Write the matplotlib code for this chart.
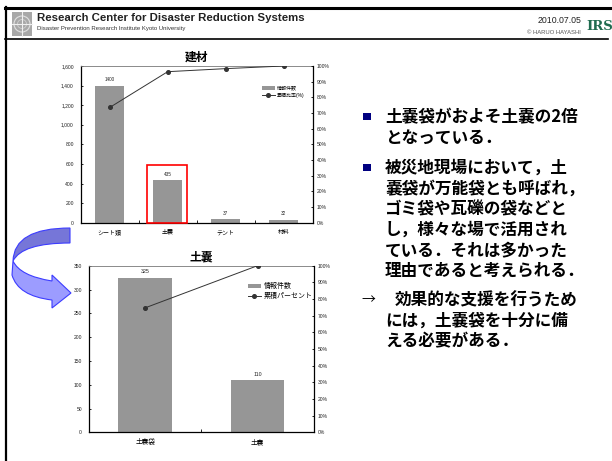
import matplotlib
matplotlib.use("Agg")
import matplotlib.pyplot as plt
from matplotlib.patches import Rectangle, PathPatch, Circle
from matplotlib.path import Path
from matplotlib.lines import Line2D
from matplotlib.ticker import PercentFormatter, FuncFormatter
import numpy as np

plt.rcParams['font.family'] = ['Liberation Sans', 'Noto Sans CJK JP', 'DejaVu Sans']

# ---- data ----
cat1 = ["シート類", "土嚢", "テント", "材料"]
val1 = [1400, 435, 37, 32]
cat2 = ["土嚢袋", "土嚢"]
val2 = [325, 110]

title1 = "建材"
title2 = "土嚢"
legend1 = ["情報件数", "累積比率(%)"]
legend2 = ["情報件数", "累積パーセント"]

W, H = 612, 461
fig = plt.figure(figsize=(W / 100, H / 100), dpi=100)
fig.patch.set_facecolor("white")

BAR = "#969696"
LINE = "#333333"


def px_rect(left, top, right, bottom):
    return [left / W, (H - bottom) / H, (right - left) / W, (bottom - top) / H]


def pareto(rect, cats, vals, ymax, ystep, width, title, legtxt, leg_anchor,
           leg_fs, leg_hl, tick_fs, cat_fs, lab_fs, title_fs):
    ax = fig.add_axes(rect)
    x = np.arange(len(cats))
    ax.bar(x, vals, width=width, color=BAR, zorder=2, label=legtxt[0])
    for xi, v in zip(x, vals):
        ax.text(xi, v + ymax * 0.02, f"{v}", ha="center", va="bottom",
                fontsize=lab_fs, color="#222222")
    ax.set_xlim(-0.5, len(cats) - 0.5)
    ax.set_ylim(0, ymax)
    ax.set_yticks(np.arange(0, ymax + 1, ystep))
    ax.yaxis.set_major_formatter(FuncFormatter(lambda v, p: f"{int(v):,}"))
    ax.set_xticks(x)
    ax.set_xticklabels(cats, fontsize=cat_fs)
    ax.set_xticks(np.arange(0.5, len(cats) - 0.5, 1), minor=True)
    ax.tick_params(axis="x", which="major", length=0, pad=5)
    ax.tick_params(axis="x", which="minor", direction="in", length=2, width=0.6)
    ax.tick_params(axis="y", direction="in", length=1.5, width=0.6,
                   labelsize=tick_fs, pad=5, labelcolor="#222222")
    for s in ("left", "bottom"):
        ax.spines[s].set_color("black")
        ax.spines[s].set_linewidth(0.9)
    ax.spines["top"].set_color("#777777")
    ax.spines["top"].set_linewidth(0.6)
    ax.spines["right"].set_visible(False)
    ax.set_title(title, fontsize=title_fs, fontweight="bold", pad=4)

    ax2 = ax.twinx()
    cum = np.cumsum(vals) / np.sum(vals)
    ax2.plot(x, cum, color=LINE, lw=0.7, marker="o", ms=2.6,
             mfc=LINE, mec=LINE, zorder=3, label=legtxt[1])
    ax2.set_ylim(0, 1)
    ax2.set_yticks(np.arange(0, 1.01, 0.1))
    ax2.yaxis.set_major_formatter(PercentFormatter(1.0, decimals=0))
    ax2.tick_params(axis="y", direction="in", length=1.5, width=0.6,
                    labelsize=tick_fs, pad=3, labelcolor="#222222")
    ax2.spines["right"].set_color("black")
    ax2.spines["right"].set_linewidth(0.9)
    for s in ("left", "top", "bottom"):
        ax2.spines[s].set_visible(False)

    h1, l1 = ax.get_legend_handles_labels()
    h2, l2 = ax2.get_legend_handles_labels()
    ax2.legend(h1 + h2, l1 + l2, loc="upper left", bbox_to_anchor=leg_anchor,
               frameon=False, fontsize=leg_fs, handlelength=leg_hl,
               handleheight=0.6, borderpad=0, labelspacing=0.4,
               handletextpad=0.4)
    return ax, ax2


ax1, ax1r = pareto(px_rect(80.7, 66, 312.7, 222.7), cat1, val1, 1600, 200, 0.5,
                   title1, legend1, (0.77, 0.89), 3.6, 2.6, 3.6, 4.3, 3.3, 8.5)
ax2_, ax2r = pareto(px_rect(89, 265.7, 313.7, 432.3), cat2, val2, 350, 50, 0.48,
                    title2, legend2, (0.69, 0.915), 5.0, 2.0, 3.6, 4.8, 3.8, 8.5)

# highlight box around the 土嚢 bar
ax1.add_patch(Rectangle((0.65, -8), 0.68, 597, fill=False, edgecolor="#ff0000",
                        lw=1.2, clip_on=False, zorder=5))

# ---- slide overlay (pixel coordinates, y downward) ----
ov = fig.add_axes([0, 0, 1, 1])
ov.set_xlim(0, W)
ov.set_ylim(H, 0)
ov.axis("off")
ov.patch.set_alpha(0)

# frame lines
ov.add_line(Line2D([5, W], [8, 8], color="black", lw=2.2))
ov.add_line(Line2D([5.5, 5.5], [7, H], color="black", lw=1.6))
ov.add_line(Line2D([5, 608], [39.5, 39.5], color="black", lw=1.2))

# institute emblem
ov.add_patch(Rectangle((12, 12), 20, 24, facecolor="#a8a8a8", edgecolor="none"))
ov.add_patch(Circle((22, 24), 8, fill=False, edgecolor="#e0e0e0", lw=0.8))
ov.add_patch(Circle((22, 24), 4.5, fill=False, edgecolor="#d0d0d0", lw=0.6))
ov.add_line(Line2D([12, 32], [24, 24], color="#f0f0f0", lw=0.8))
ov.add_line(Line2D([22, 22], [12, 36], color="#f0f0f0", lw=0.8))

ov.text(37, 21, "Research Center for Disaster Reduction Systems", fontsize=8.2,
        fontweight="bold", color="#222222", va="baseline", ha="left")
ov.text(37, 30, "Disaster Prevention Research Institute Kyoto University",
        fontsize=4.3, color="#333333", va="baseline", ha="left")
ov.text(581, 23, "2010.07.05", fontsize=6.3, color="#222222", ha="right",
        va="baseline")
ov.text(581, 34, "© HARUO HAYASHI", fontsize=4.2, color="#555555", ha="right",
        va="baseline")
ov.text(599.5, 27, "IRS", fontsize=9.5, fontweight="bold", family="DejaVu Serif",
        color="#1f6b4f", ha="center", va="center")

# curved arrow linking the two charts
dark = Path([(70, 228), (14, 228), (13, 261), (22, 243), (70, 243), (70, 228)],
            [Path.MOVETO, Path.CURVE3, Path.CURVE3, Path.CURVE3, Path.CURVE3,
             Path.CLOSEPOLY])
ov.add_patch(PathPatch(dark, facecolor="#7676d8", edgecolor="#3c3cff", lw=0.8))
light = Path([(13, 261), (20, 276), (52, 281), (52, 275), (71, 293), (52, 308),
              (52, 300), (18, 296), (12, 275), (13, 261)],
             [Path.MOVETO, Path.CURVE3, Path.CURVE3, Path.LINETO, Path.LINETO,
              Path.LINETO, Path.LINETO, Path.CURVE3, Path.CURVE3,
              Path.CLOSEPOLY])
ov.add_patch(PathPatch(light, facecolor="#9c9cff", edgecolor="#3c3cff", lw=0.8))

# bullet text
txt_fam = ["Noto Sans CJK JP", "DejaVu Sans"]
fs = 12
NAVY = "#000080"
ov.add_patch(Rectangle((363, 112.5), 7.5, 7.5, facecolor=NAVY, edgecolor="none"))
ov.add_patch(Rectangle((363, 163.5), 7.5, 7.5, facecolor=NAVY, edgecolor="none"))

lines = [
    (117, "土嚢袋がおよそ土嚢の2倍"),
    (137.5, "となっている．"),
    (168, "被災地現場において，土"),
    (188.5, "嚢袋が万能袋とも呼ばれ，"),
    (209, "ゴミ袋や瓦礫の袋などと"),
    (229.5, "し，様々な場で活用され"),
    (250, "ている．それは多かった"),
    (270.5, "理由であると考えられる．"),
    (321, "には，土嚢袋を十分に備"),
    (341.5, "える必要がある．"),
]
for y, s in lines:
    ov.text(385, y, s, fontsize=fs, fontweight="bold", family=txt_fam,
            ha="left", va="center", color="black")
ov.text(361, 300.5, "→", fontsize=10, family=txt_fam, ha="left", va="center",
        color="black")
ov.text(395, 300.5, "効果的な支援を行うため", fontsize=fs, fontweight="bold",
        family=txt_fam, ha="left", va="center", color="black")

fig.savefig("out.png", dpi=100)
